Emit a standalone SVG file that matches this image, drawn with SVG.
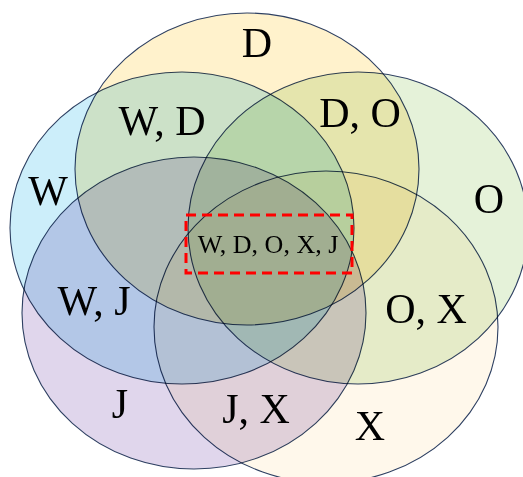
<svg xmlns="http://www.w3.org/2000/svg" width="523" height="477" viewBox="0 0 523 477">
  <style>
    .set { mix-blend-mode: multiply; stroke: #2E4062; stroke-width: 1.1; }
    .lbl { font-family: "Liberation Serif", "Times New Roman", serif; font-size: 42px; fill: #000; text-anchor: middle; }
    .core { font-family: "Liberation Serif", "Times New Roman", serif; font-size: 26px; fill: #000; text-anchor: middle; }
  </style>
  <rect x="0" y="0" width="523" height="477" fill="#FFFFFF"/>
  <g id="sets">
    <g id="set-D"><ellipse class="set" cx="247" cy="169" rx="172" ry="156" fill="#FFF2CC"/></g>
    <g id="set-W"><ellipse class="set" cx="182" cy="228" rx="172" ry="156" fill="#CCEEFA"/></g>
    <g id="set-O"><ellipse class="set" cx="358" cy="228" rx="170" ry="156" fill="#E5F2D9"/></g>
    <g id="set-J"><ellipse class="set" cx="194" cy="313" rx="172" ry="156" fill="#E0D6EC"/></g>
    <g id="set-X"><ellipse class="set" cx="326" cy="327" rx="172" ry="156" fill="#FFF8EB"/></g>
  </g>
  <g id="labels">
    <text class="lbl" x="257" y="57">D</text>
    <text class="lbl" x="162" y="135">W, D</text>
    <text class="lbl" x="360" y="127">D, O</text>
    <text class="lbl" x="48" y="205">W</text>
    <text class="lbl" x="489" y="213">O</text>
    <text class="lbl" x="94" y="315">W, J</text>
    <text class="lbl" x="426" y="323">O, X</text>
    <text class="lbl" x="120" y="418">J</text>
    <text class="lbl" x="256" y="423">J, X</text>
    <text class="lbl" x="370" y="440">X</text>
  </g>
  <g id="core">
    <rect x="186" y="215" width="166" height="58" fill="none" stroke="#FF0000" stroke-width="3" stroke-dasharray="10 6"/>
    <text class="core" x="268" y="253">W, D, O, X, J</text>
  </g>
</svg>
